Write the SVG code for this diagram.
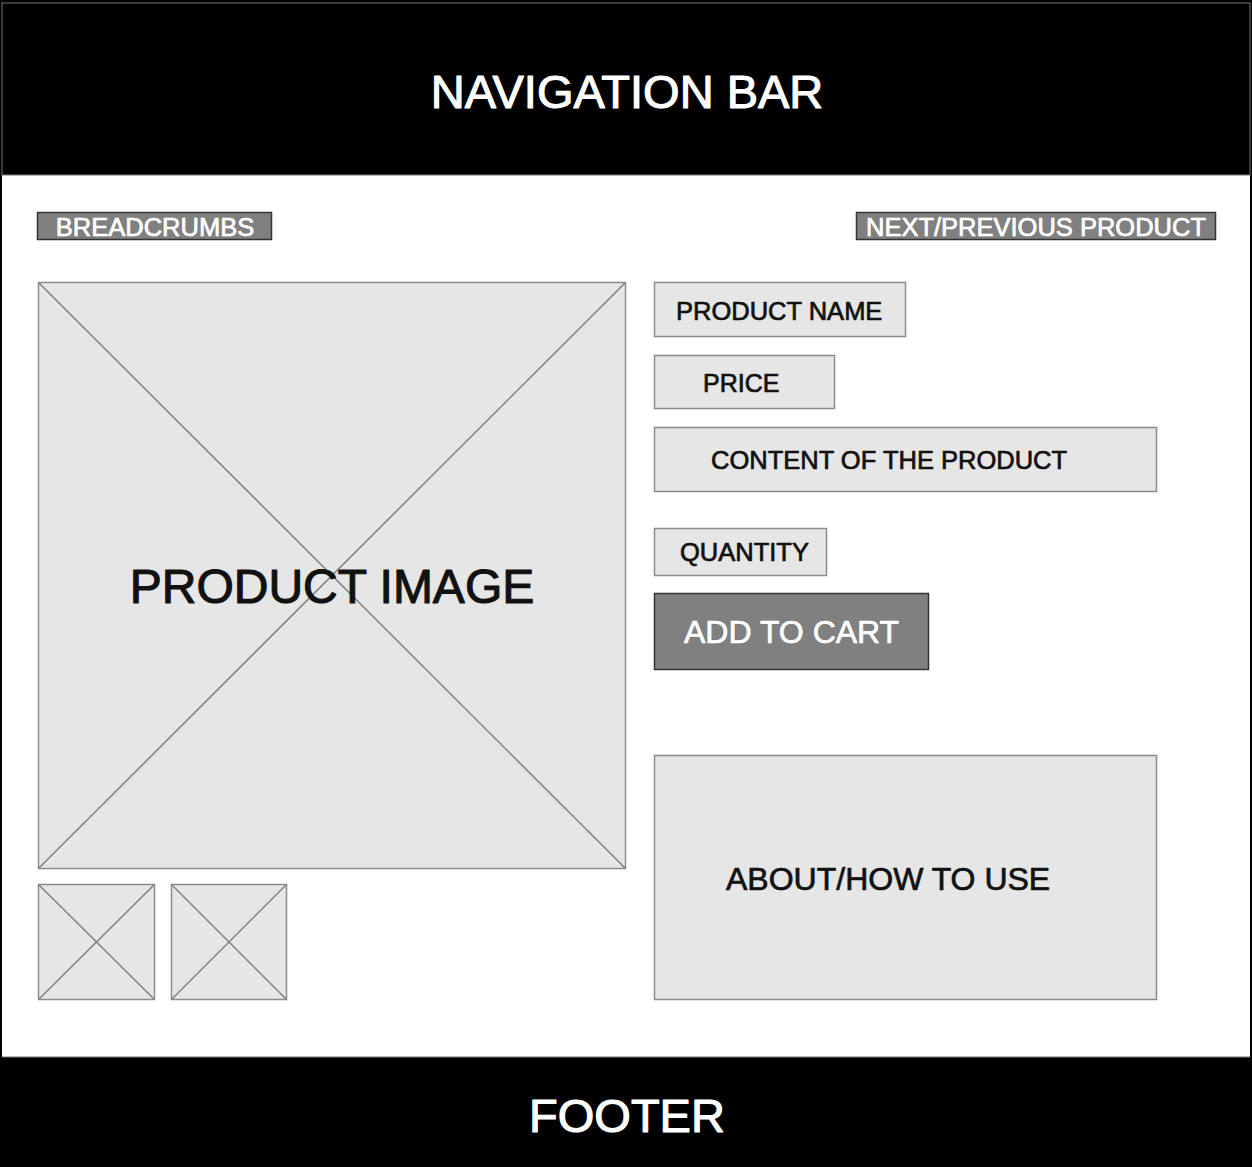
<svg xmlns="http://www.w3.org/2000/svg" width="1252" height="1167" viewBox="0 0 1252 1167">
<style>
text{font-family:"Liberation Sans",Arial,sans-serif;stroke-width:0.7;stroke-linejoin:round}
.big{stroke-width:1.1}
.light{fill:#e6e6e6;stroke:#8c8c8c;stroke-width:1.5}
.dark{fill:#808080;stroke:#333;stroke-width:1.5}
.x{stroke:#808080;stroke-width:1.5}
.bt{fill:#111;stroke:#111}
.wt{fill:#fff;stroke:#fff}
</style>
<rect x="0" y="0" width="1252" height="1167" fill="#000"/>
<rect x="2" y="175" width="1248" height="882" fill="#fff"/>
<g id="navbar">
<rect x="2" y="3" width="1248" height="172" fill="#000" stroke="#777" stroke-width="1"/>
<text class="wt big" x="627" y="108" font-size="47" text-anchor="middle">NAVIGATION BAR</text>
</g>
<g id="breadcrumbs">
<rect class="dark" x="37.5" y="212.5" width="234" height="27"/>
<text class="wt" x="155" y="236" font-size="25.5" text-anchor="middle">BREADCRUMBS</text>
</g>
<g id="next-prev">
<rect class="dark" x="856.5" y="212.5" width="359" height="27"/>
<text class="wt" x="1036" y="236" font-size="25.5" text-anchor="middle">NEXT/PREVIOUS PRODUCT</text>
</g>
<g id="product-image">
<rect class="light" x="38.5" y="282.5" width="587" height="586"/>
<line class="x" x1="38.5" y1="282.5" x2="625.5" y2="868.5"/>
<line class="x" x1="625.5" y1="282.5" x2="38.5" y2="868.5"/>
<text class="bt big" x="332" y="603" font-size="48" text-anchor="middle">PRODUCT IMAGE</text>
</g>
<g id="thumb1">
<rect class="light" x="38.5" y="884.5" width="116" height="115"/>
<line class="x" x1="38.5" y1="884.5" x2="154.5" y2="999.5"/>
<line class="x" x1="154.5" y1="884.5" x2="38.5" y2="999.5"/>
</g>
<g id="thumb2">
<rect class="light" x="171.5" y="884.5" width="115" height="115"/>
<line class="x" x1="171.5" y1="884.5" x2="286.5" y2="999.5"/>
<line class="x" x1="286.5" y1="884.5" x2="171.5" y2="999.5"/>
</g>
<g id="product-name">
<rect class="light" x="654.5" y="282.5" width="251" height="54"/>
<text class="bt" x="676" y="320" font-size="25.5">PRODUCT NAME</text>
</g>
<g id="price">
<rect class="light" x="654.5" y="355.5" width="180" height="53"/>
<text class="bt" x="703" y="392" font-size="25">PRICE</text>
</g>
<g id="content">
<rect class="light" x="654.5" y="427.5" width="502" height="64"/>
<text class="bt" x="711" y="469" font-size="25.5">CONTENT OF THE PRODUCT</text>
</g>
<g id="quantity">
<rect class="light" x="654.5" y="528.5" width="172" height="47"/>
<text class="bt" x="680" y="561" font-size="25.5">QUANTITY</text>
</g>
<g id="add-to-cart">
<rect class="dark" x="654.5" y="593.5" width="274" height="76"/>
<text class="wt" x="684" y="643" font-size="32">ADD TO CART</text>
</g>
<g id="about">
<rect class="light" x="654.5" y="755.5" width="502" height="244"/>
<text class="bt" x="726" y="890" font-size="32">ABOUT/HOW TO USE</text>
</g>
<g id="footer">
<rect x="0" y="1057" width="1252" height="110" fill="#000"/>
<line x1="2" y1="1057" x2="1250" y2="1057" stroke="#777" stroke-width="1"/>
<text class="wt big" x="627" y="1132" font-size="47" text-anchor="middle">FOOTER</text>
</g>
<g id="connectors"></g>
</svg>
